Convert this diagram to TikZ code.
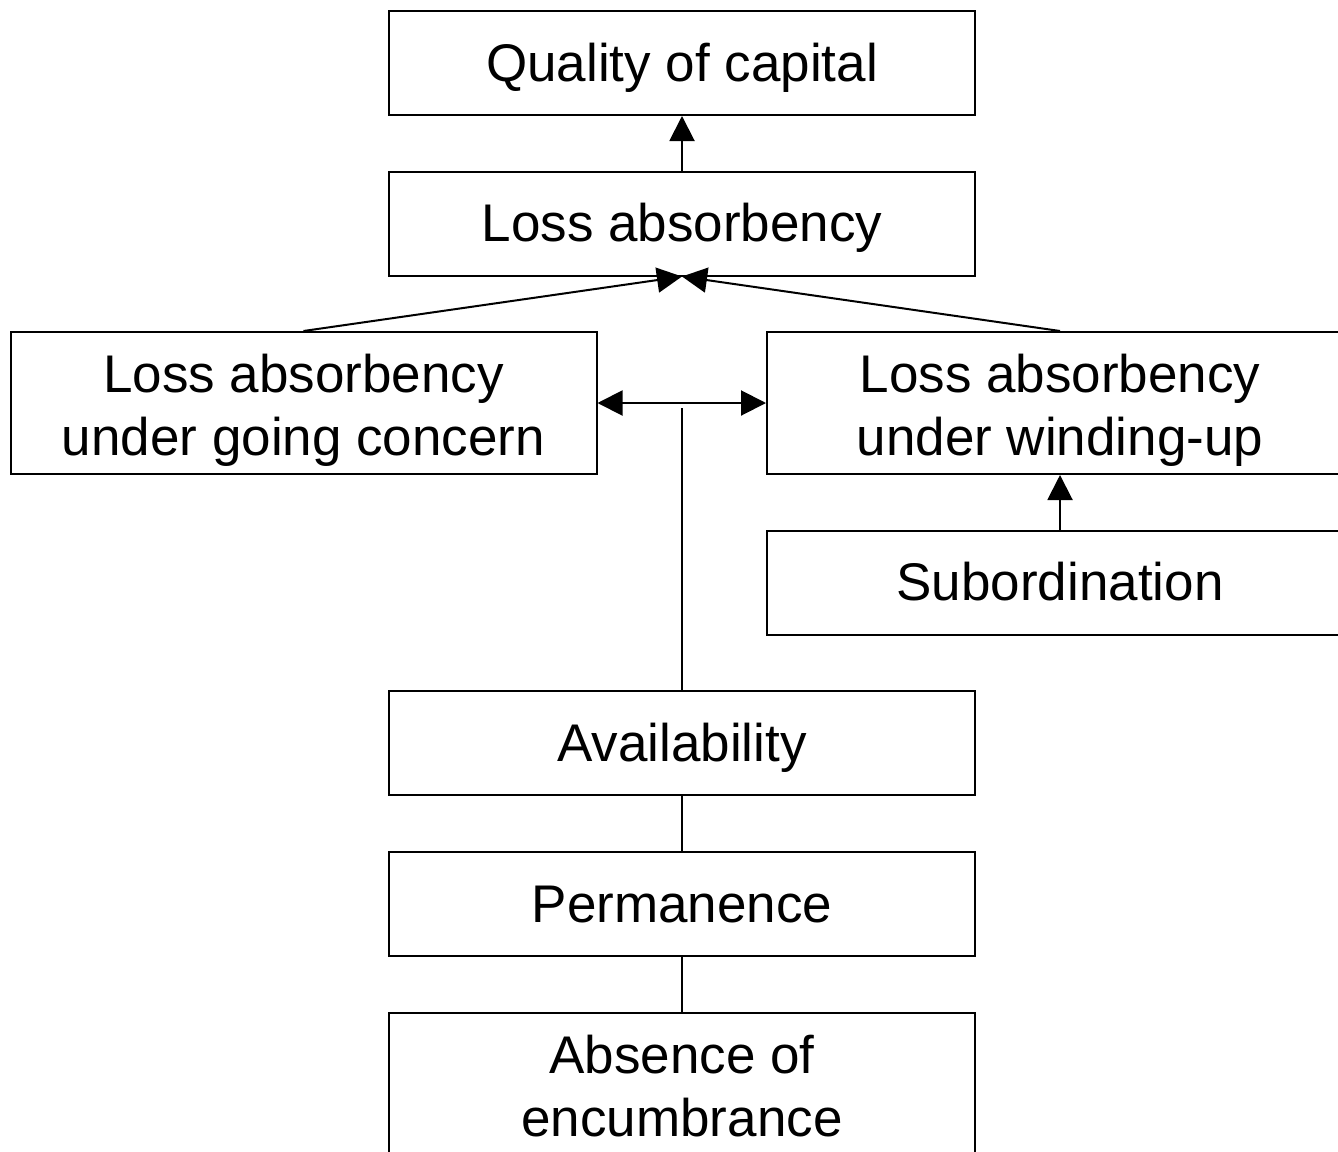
\documentclass[tikz,border=0pt]{standalone}
\usepackage{fontspec}
\setmainfont{Liberation Sans}
\usetikzlibrary{arrows.meta}
\begin{document}
\begin{tikzpicture}[x=1pt,y=-1pt,
  box/.style={draw,line width=2pt,minimum width=586pt,inner sep=0pt,align=center,
    font=\fontsize{53pt}{63pt}\selectfont},
  onebox/.style={box,minimum height=104pt,text height=40pt,text depth=4pt},
  twobox/.style={box,minimum height=142pt,text height=106pt,text depth=2pt},
  link/.style={line width=2pt},
  arr/.style={link,-{Triangle[length=25pt,width=25pt]}},
  dblarr/.style={link,{Triangle[length=25pt,width=25pt]}-{Triangle[length=25pt,width=25pt]}}]
\useasboundingbox (0,0) rectangle (1338,1151);
\clip (0,0) rectangle (1338,1151);
% boxes
\node[onebox] (q)   at (682,63)    {Quality of capital};
\node[onebox] (la)  at (682,223.5) {Loss absorbency};
\node[twobox] (gc)  at (303.5,403) {Loss absorbency\\under going concern};
\node[twobox] (wu)  at (1060,403)  {Loss absorbency\\under winding-up};
\node[onebox] (sub) at (1060,582.5){Subordination};
\node[onebox] (av)  at (682,743)   {Availability};
\node[onebox] (pe)  at (682,904)   {Permanence};
\node[twobox] (ab)  at (682,1084)  {Absence of\\encumbrance};
% connectors
\coordinate (j) at (682,408);
\draw[arr] (la) -- (q);
\draw[arr] (gc.north) -- (la.south);
\draw[arr] (wu.north) -- (la.south);
\draw[dblarr] (gc.east) -- (wu.west);
\draw[link] (av.north) -- (j);
\draw[arr] (sub) -- (wu);
\draw[link] (av) -- (pe);
\draw[link] (pe) -- (ab);
\end{tikzpicture}
\end{document}
